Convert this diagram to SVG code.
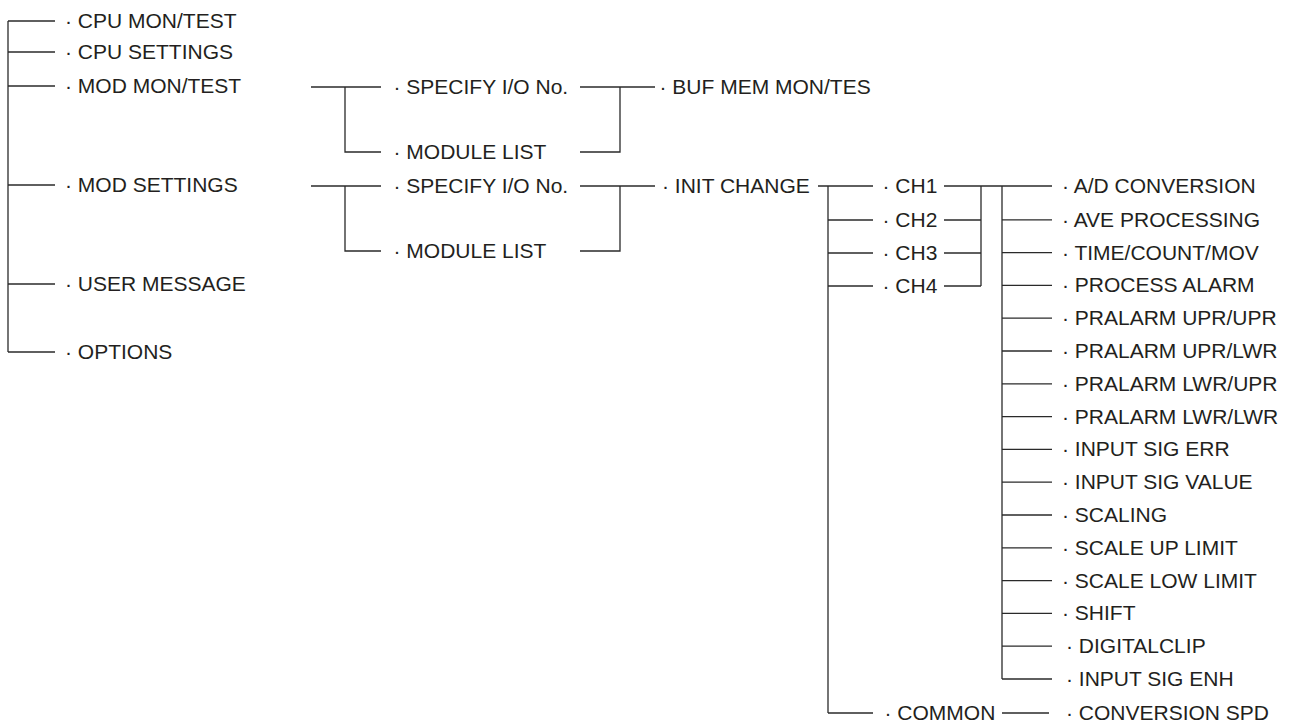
<svg xmlns="http://www.w3.org/2000/svg" width="1289" height="724" viewBox="0 0 1289 724">
<style>
  .t { font-family: "Liberation Sans", Arial, sans-serif; font-size: 21px; fill: #231f20; }
  .c line, .c polyline { stroke: #2a2a2a; stroke-width: 1.3; fill: none; }
</style>
<rect width="1289" height="724" fill="#ffffff"/>
<g id="connectors" class="c">
  <!-- left root tree -->
  <line x1="8" y1="21" x2="8" y2="352"/>
  <line x1="8" y1="21" x2="55" y2="21"/>
  <line x1="8" y1="52" x2="55" y2="52"/>
  <line x1="8" y1="86" x2="55" y2="86"/>
  <line x1="8" y1="185" x2="55" y2="185"/>
  <line x1="8" y1="284" x2="55" y2="284"/>
  <line x1="8" y1="352" x2="55" y2="352"/>
  <!-- MOD MON/TEST branch -->
  <line x1="311" y1="87" x2="381" y2="87"/>
  <polyline points="345,87 345,152 381,152"/>
  <line x1="580" y1="87" x2="655" y2="87"/>
  <polyline points="580,152 620,152 620,87"/>
  <!-- MOD SETTINGS branch -->
  <line x1="311" y1="186" x2="381" y2="186"/>
  <polyline points="345,186 345,251 381,251"/>
  <line x1="580" y1="186" x2="655" y2="186"/>
  <polyline points="580,251 620,251 620,186"/>
  <!-- INIT CHANGE branch -->
  <line x1="818" y1="186" x2="873" y2="186"/>
  <line x1="828" y1="186" x2="828" y2="713"/>
  <line x1="828" y1="220" x2="873" y2="220"/>
  <line x1="828" y1="253" x2="873" y2="253"/>
  <line x1="828" y1="286" x2="873" y2="286"/>
  <line x1="828" y1="713" x2="873" y2="713"/>
  <!-- CH merge -->
  <line x1="944" y1="186" x2="1052" y2="186"/>
  <line x1="944" y1="220" x2="981" y2="220"/>
  <line x1="944" y1="253" x2="981" y2="253"/>
  <line x1="944" y1="286" x2="981" y2="286"/>
  <line x1="981" y1="186" x2="981" y2="286"/>
  <!-- settings list -->
  <line x1="1002" y1="186" x2="1002" y2="679"/>
  <line x1="1002" y1="219.8" x2="1052" y2="219.8"/>
  <line x1="1002" y1="252.6" x2="1052" y2="252.6"/>
  <line x1="1002" y1="285.4" x2="1052" y2="285.4"/>
  <line x1="1002" y1="318.2" x2="1052" y2="318.2"/>
  <line x1="1002" y1="351" x2="1052" y2="351"/>
  <line x1="1002" y1="383.8" x2="1052" y2="383.8"/>
  <line x1="1002" y1="416.6" x2="1052" y2="416.6"/>
  <line x1="1002" y1="449.4" x2="1052" y2="449.4"/>
  <line x1="1002" y1="482.2" x2="1052" y2="482.2"/>
  <line x1="1002" y1="515" x2="1052" y2="515"/>
  <line x1="1002" y1="547.8" x2="1052" y2="547.8"/>
  <line x1="1002" y1="580.6" x2="1052" y2="580.6"/>
  <line x1="1002" y1="613.4" x2="1052" y2="613.4"/>
  <line x1="1002" y1="646.2" x2="1052" y2="646.2"/>
  <line x1="1002" y1="679" x2="1052" y2="679"/>
  <!-- COMMON -->
  <line x1="1002" y1="713" x2="1049" y2="713"/>
</g>
<g id="n-cpu-mon"><text class="t" x="65" y="28">· CPU MON/TEST</text></g>
<g id="n-cpu-set"><text class="t" x="65" y="59">· CPU SETTINGS</text></g>
<g id="n-mod-mon"><text class="t" x="65" y="93">· MOD MON/TEST</text></g>
<g id="n-mod-set"><text class="t" x="65" y="192">· MOD SETTINGS</text></g>
<g id="n-user-msg"><text class="t" x="65" y="291">· USER MESSAGE</text></g>
<g id="n-options"><text class="t" x="65" y="359">· OPTIONS</text></g>
<g id="n-mm-spec"><text class="t" x="393.5" y="94">· SPECIFY I/O No.</text></g>
<g id="n-mm-list"><text class="t" x="393.5" y="159">· MODULE LIST</text></g>
<g id="n-buf"><text class="t" x="659.5" y="94">· BUF MEM MON/TES</text></g>
<g id="n-ms-spec"><text class="t" x="393.5" y="193">· SPECIFY I/O No.</text></g>
<g id="n-ms-list"><text class="t" x="393.5" y="258">· MODULE LIST</text></g>
<g id="n-init"><text class="t" x="662" y="193">· INIT CHANGE</text></g>
<g id="n-ch1"><text class="t" x="882.5" y="193">· CH1</text></g>
<g id="n-ch2"><text class="t" x="882.5" y="227">· CH2</text></g>
<g id="n-ch3"><text class="t" x="882.5" y="260">· CH3</text></g>
<g id="n-ch4"><text class="t" x="882.5" y="293">· CH4</text></g>
<g id="n-common"><text class="t" x="884.5" y="720">· COMMON</text></g>
<g id="n-ad"><text class="t" x="1062" y="193">· A/D CONVERSION</text></g>
<g id="n-ave"><text class="t" x="1062" y="226.8">· AVE PROCESSING</text></g>
<g id="n-time"><text class="t" x="1062" y="259.6">· TIME/COUNT/MOV</text></g>
<g id="n-palarm"><text class="t" x="1062" y="292.4">· PROCESS ALARM</text></g>
<g id="n-uu"><text class="t" x="1062" y="325.2">· PRALARM UPR/UPR</text></g>
<g id="n-ul"><text class="t" x="1062" y="358">· PRALARM UPR/LWR</text></g>
<g id="n-lu"><text class="t" x="1062" y="390.8">· PRALARM LWR/UPR</text></g>
<g id="n-ll"><text class="t" x="1062" y="423.6">· PRALARM LWR/LWR</text></g>
<g id="n-sigerr"><text class="t" x="1062" y="456.4">· INPUT SIG ERR</text></g>
<g id="n-sigval"><text class="t" x="1062" y="489.2">· INPUT SIG VALUE</text></g>
<g id="n-scaling"><text class="t" x="1062" y="522">· SCALING</text></g>
<g id="n-scup"><text class="t" x="1062" y="554.8">· SCALE UP LIMIT</text></g>
<g id="n-sclow"><text class="t" x="1062" y="587.6">· SCALE LOW LIMIT</text></g>
<g id="n-shift"><text class="t" x="1062" y="620.4">· SHIFT</text></g>
<g id="n-dclip"><text class="t" x="1066" y="653.2">· DIGITALCLIP</text></g>
<g id="n-sigenh"><text class="t" x="1066" y="686">· INPUT SIG ENH</text></g>
<g id="n-convspd"><text class="t" x="1066" y="720">· CONVERSION SPD</text></g>
</svg>
